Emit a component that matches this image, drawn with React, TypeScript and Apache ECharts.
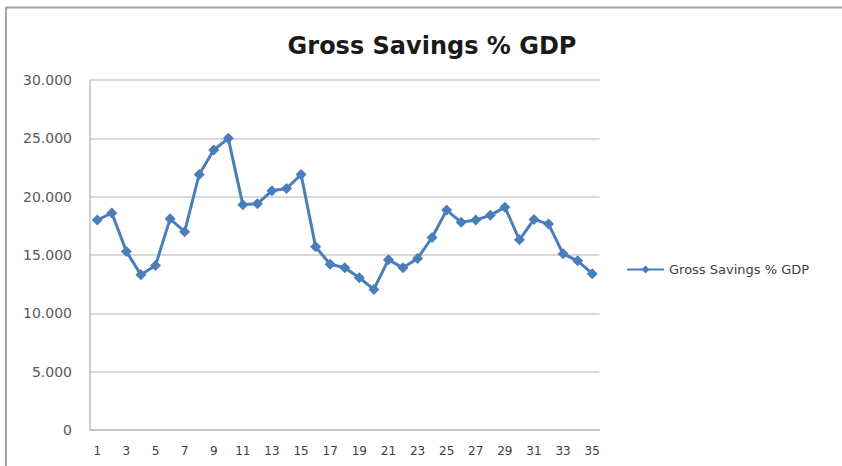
import React, { useEffect, useRef } from "react";
import * as echarts from "echarts";

const categories = Array.from({ length: 35 }, (_, i) => String(i + 1));
const grossSavings = [
  18.0, 18.6, 15.3, 13.3, 14.1, 18.1, 17.0, 21.9, 24.0, 25.0,
  19.3, 19.4, 20.5, 20.7, 21.9, 15.7, 14.2, 13.9, 13.05, 12.05,
  14.6, 13.9, 14.7, 16.5, 18.85, 17.8, 18.0, 18.4, 19.1, 16.3,
  18.05, 17.65, 15.1, 14.5, 13.4,
];
const yTicks = { min: 0, max: 30, interval: 5 };

export default function App() {
  const ref = useRef<HTMLDivElement>(null);
  useEffect(() => {
    if (!ref.current) return;
    const chart = echarts.init(ref.current, undefined, { renderer: "svg" });
    chart.setOption({
      animation: false,
      backgroundColor: "#ffffff",
      title: {
        text: "Gross Savings % GDP",
        left: 427,
        top: 29,
        textAlign: "center",
        textStyle: {
          fontFamily: "DejaVu Sans",
          fontWeight: "bold",
          fontSize: 24,
          color: "#1a1a1a",
        },
      },
      graphic: [
        { type: "line", shape: { x1: 6, y1: 7.5, x2: 842, y2: 7.5 }, style: { stroke: "#a6a6a6", lineWidth: 2 } },
        { type: "line", shape: { x1: 6, y1: 7, x2: 6, y2: 466 }, style: { stroke: "#a6a6a6", lineWidth: 2 } },
      ],
      legend: {
        left: 621,
        top: 258,
        itemWidth: 37,
        itemHeight: 10,
        itemGap: 4,
        textStyle: { fontFamily: "DejaVu Sans", fontSize: 13, color: "#404040" },
        data: ["Gross Savings % GDP"],
      },
      grid: { left: 90, right: 242.5, top: 80, bottom: 36 },
      xAxis: {
        type: "category",
        data: categories,
        boundaryGap: true,
        axisLine: { show: true, lineStyle: { color: "#bfbfbf", width: 1.5 } },
        axisTick: { show: false },
        axisLabel: {
          interval: 1,
          margin: 15,
          fontFamily: "DejaVu Sans",
          fontSize: 12,
          color: "#404040",
        },
      },
      yAxis: {
        type: "value",
        min: yTicks.min,
        max: yTicks.max,
        interval: yTicks.interval,
        axisLine: { show: true, lineStyle: { color: "#bfbfbf", width: 1.5 } },
        axisTick: { show: false },
        splitLine: { lineStyle: { color: "#d9d9d9", width: 2 } },
        axisLabel: {
          margin: 18,
          fontFamily: "DejaVu Sans",
          fontSize: 14,
          color: "#595959",
          formatter: (v: number) => (v === 0 ? "0" : v.toFixed(3)),
        },
      },
      series: [
        {
          name: "Gross Savings % GDP",
          type: "line",
          data: grossSavings,
          symbol: "diamond",
          symbolSize: 11,
          showAllSymbol: true,
          lineStyle: { color: "#4a7ebb", width: 3 },
          itemStyle: { color: "#4a7ebb" },
        },
      ],
    });
    return () => chart.dispose();
  }, []);
  return (
    <div
      ref={ref}
      style={{ position: "fixed", left: 0, top: 0, width: 842, height: 466 }}
    />
  );
}
